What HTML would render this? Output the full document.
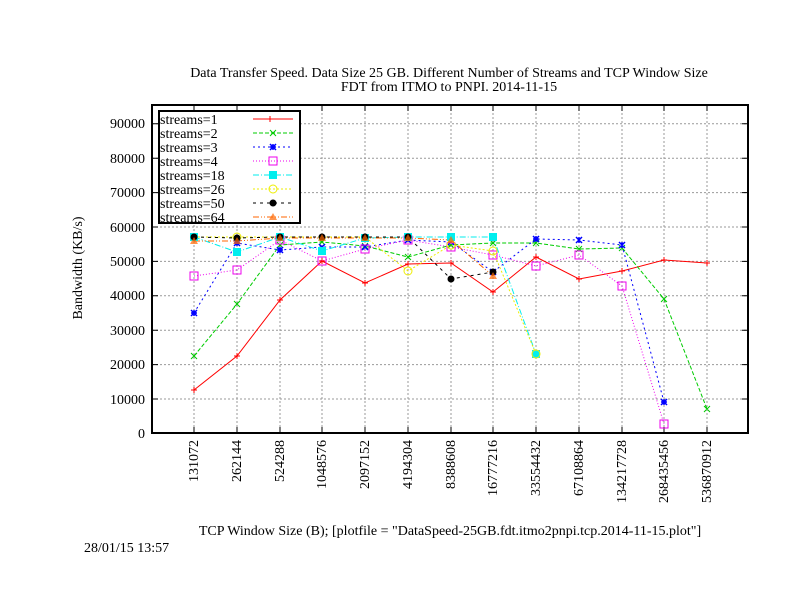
<!DOCTYPE html>
<html><head><style>body{margin:0;background:#fff}svg{display:block}text{font-family:"Liberation Serif",serif;font-size:14px;fill:#000}</style></head><body>
<svg width="792" height="612" viewBox="0 0 792 612" xmlns="http://www.w3.org/2000/svg">
<rect width="792" height="612" fill="#fff"/>
<text x="449" y="77" text-anchor="middle">Data Transfer Speed. Data Size 25 GB. Different Number of Streams and TCP Window Size</text>
<text x="449" y="91" text-anchor="middle">FDT from ITMO to PNPI. 2014-11-15</text>
<g stroke="#999" stroke-width="1" stroke-dasharray="2,2" fill="none">
<path d="M152 399H748M152 364.6H748M152 330.2H748M152 295.8H748M152 261.4H748M152 227H748M152 192.6H748M152 158.2H748M152 123.8H748"/>
<path d="M194 105V433M237 105V433M280 105V433M322 105V433M365 105V433M408 105V433M451 105V433M493 105V433M536 105V433M579 105V433M622 105V433M664 105V433M707 105V433"/>
</g>
<g stroke="#000" stroke-width="1">
<path d="M152 399h6M152 364.6h6M152 330.2h6M152 295.8h6M152 261.4h6M152 227h6M152 192.6h6M152 158.2h6M152 123.8h6M748 399h-6M748 364.6h-6M748 330.2h-6M748 295.8h-6M748 261.4h-6M748 227h-6M748 192.6h-6M748 158.2h-6M748 123.8h-6"/>
<path d="M194 433v-6M237 433v-6M280 433v-6M322 433v-6M365 433v-6M408 433v-6M451 433v-6M493 433v-6M536 433v-6M579 433v-6M622 433v-6M664 433v-6M707 433v-6M194 105v6M237 105v6M280 105v6M322 105v6M365 105v6M408 105v6M451 105v6M493 105v6M536 105v6M579 105v6M622 105v6M664 105v6M707 105v6"/>
</g>
<g text-anchor="end">
<text x="145" y="438">0</text><text x="145" y="404">10000</text><text x="145" y="369">20000</text><text x="145" y="335">30000</text><text x="145" y="300">40000</text><text x="145" y="266">50000</text><text x="145" y="232">60000</text><text x="145" y="197">70000</text><text x="145" y="163">80000</text><text x="145" y="128">90000</text>
</g>
<g text-anchor="end">
<text transform="translate(198,440) rotate(-90)">131072</text>
<text transform="translate(241,440) rotate(-90)">262144</text>
<text transform="translate(284,440) rotate(-90)">524288</text>
<text transform="translate(326,440) rotate(-90)">1048576</text>
<text transform="translate(369,440) rotate(-90)">2097152</text>
<text transform="translate(412,440) rotate(-90)">4194304</text>
<text transform="translate(455,440) rotate(-90)">8388608</text>
<text transform="translate(497,440) rotate(-90)">16777216</text>
<text transform="translate(540,440) rotate(-90)">33554432</text>
<text transform="translate(583,440) rotate(-90)">67108864</text>
<text transform="translate(626,440) rotate(-90)">134217728</text>
<text transform="translate(668,440) rotate(-90)">268435456</text>
<text transform="translate(711,440) rotate(-90)">536870912</text>
</g>
<text transform="translate(82,268) rotate(-90)" text-anchor="middle">Bandwidth (KB/s)</text>
<text x="450" y="535" text-anchor="middle">TCP Window Size (B); [plotfile = "DataSpeed-25GB.fdt.itmo2pnpi.tcp.2014-11-15.plot"]</text>
<text x="84" y="552">28/01/15 13:57</text>
<g fill="none" stroke-width="1">
<polyline stroke="#f00" points="194,390 237,356 280,300 322,261 365,283 408,264 451,263 493,292 536,257 579,279 622,271 664,260 707,263"/>
<polyline stroke="#0c0" stroke-dasharray="4,2" points="194,356 237,304 280,245 322,242 365,246 408,257 451,245 493,243 536,243 579,249 622,248 664,299 707,409"/>
<polyline stroke="#00f" stroke-dasharray="2,3" points="194,313 237,243 280,250 322,247 365,247 408,240 451,242 493,272 536,239 579,240 622,245 664,402"/>
<polyline stroke="#e0e" stroke-dasharray="1,2" points="194,276 237,270 280,240 322,261 365,249 408,240 451,247 493,255 536,266 579,255 622,286 664,424"/>
<polyline stroke="#0ee" stroke-dasharray="6,2,1,2" points="194,237 237,252 280,237 322,251 365,238 408,237 451,237 493,237 536,354"/>
<polyline stroke="#ee0" stroke-dasharray="2,2" points="194,237 237,237 280,237 322,237 365,237 408,271 451,245 493,251 536,354"/>
<polyline stroke="#000" stroke-dasharray="3,4" points="194,237 237,238 280,237 322,237 365,237 408,237 451,279 493,272"/>
<polyline stroke="#f60" stroke-dasharray="6,2,1,2,1,2" points="194,241 237,241 280,238 322,238 365,238 408,238 451,240 493,276"/>
</g>
<g stroke="#f00"><path d="M191 390h6M194 387v6M234 356h6M237 353v6M277 300h6M280 297v6M319 261h6M322 258v6M362 283h6M365 280v6M405 264h6M408 261v6M448 263h6M451 260v6M490 292h6M493 289v6M533 257h6M536 254v6M576 279h6M579 276v6M619 271h6M622 268v6M661 260h6M664 257v6M704 263h6M707 260v6"/></g>
<g stroke="#0c0"><path d="M191 353l6 6M197 353l-6 6M234 301l6 6M240 301l-6 6M277 242l6 6M283 242l-6 6M319 239l6 6M325 239l-6 6M362 243l6 6M368 243l-6 6M405 254l6 6M411 254l-6 6M448 242l6 6M454 242l-6 6M490 240l6 6M496 240l-6 6M533 240l6 6M539 240l-6 6M576 246l6 6M582 246l-6 6M619 245l6 6M625 245l-6 6M661 296l6 6M667 296l-6 6M704 406l6 6M710 406l-6 6"/></g>
<g stroke="#00f" stroke-width="1.5"><path d="M191 310l6 6M197 310l-6 6M191 313h6M194 310v6M234 240l6 6M240 240l-6 6M234 243h6M237 240v6M277 247l6 6M283 247l-6 6M277 250h6M280 247v6M319 244l6 6M325 244l-6 6M362 244l6 6M368 244l-6 6M405 237l6 6M411 237l-6 6M448 239l6 6M454 239l-6 6M490 269l6 6M496 269l-6 6M533 236l6 6M539 236l-6 6M533 239h6M536 236v6M576 237l6 6M582 237l-6 6M579 237v6M619 242l6 6M625 242l-6 6M622 242v6M661 399l6 6M667 399l-6 6M661 402h6M664 399v6"/></g>
<g stroke="#e0e" fill="none"><rect x="190" y="272" width="8" height="8"/><rect x="233" y="266" width="8" height="8"/><rect x="276" y="236" width="8" height="8"/><rect x="318" y="257" width="8" height="8"/><rect x="361" y="245" width="8" height="8"/><rect x="404" y="236" width="8" height="8"/><rect x="447" y="243" width="8" height="8"/><rect x="489" y="251" width="8" height="8"/><rect x="532" y="262" width="8" height="8"/><rect x="575" y="251" width="8" height="8"/><rect x="618" y="282" width="8" height="8"/><rect x="660" y="420" width="8" height="8"/></g>
<g fill="#0ee"><rect x="190" y="233" width="8" height="8"/><rect x="233" y="248" width="8" height="8"/><rect x="276" y="233" width="8" height="8"/><rect x="318" y="247" width="8" height="8"/><rect x="361" y="234" width="8" height="8"/><rect x="404" y="233" width="8" height="8"/><rect x="447" y="233" width="8" height="8"/><rect x="489" y="233" width="8" height="8"/><rect x="532" y="350" width="8" height="8"/></g>
<g stroke="#ee0" fill="none"><circle cx="237" cy="237" r="4"/><circle cx="408" cy="271" r="4"/><circle cx="451" cy="245" r="4"/><circle cx="493" cy="251" r="4"/><circle cx="536" cy="354" r="4"/></g>
<g fill="#000"><circle cx="194" cy="237" r="3.5"/><circle cx="237" cy="238" r="3.5"/><circle cx="280" cy="237" r="3.5"/><circle cx="322" cy="237" r="3.5"/><circle cx="365" cy="237" r="3.5"/><circle cx="408" cy="237" r="3.5"/><circle cx="451" cy="279" r="3.5"/><circle cx="493" cy="272" r="3.5"/></g>
<g fill="#f60" fill-opacity="0.7"><path d="M194 237l4 7h-8zM237 237l4 7h-8zM280 234l4 7h-8zM322 234l4 7h-8zM365 234l4 7h-8zM408 234l4 7h-8zM451 236l4 7h-8zM493 272l4 7h-8z"/></g>
<rect x="152" y="105" width="596" height="328" fill="none" stroke="#000" stroke-width="2"/>
<rect x="159" y="111" width="141" height="112" fill="#fff" stroke="#000" stroke-width="2"/>
<g>
<text x="160" y="124">streams=1</text><text x="160" y="138">streams=2</text><text x="160" y="152">streams=3</text><text x="160" y="166">streams=4</text><text x="160" y="180">streams=18</text><text x="160" y="194">streams=26</text><text x="160" y="208">streams=50</text><text x="160" y="222">streams=64</text>
</g>
<g fill="none">
<path stroke="#f00" d="M253 119h40M270 116v6M267 119h6"/>
<path stroke="#0c0" stroke-dasharray="4,2" d="M253 133h40"/><path stroke="#0c0" d="M270 130l6 6M276 130l-6 6"/>
<path stroke="#00f" stroke-dasharray="2,3" d="M253 147h40"/><path stroke="#00f" stroke-width="1.5" d="M270 144l6 6M276 144l-6 6M270 147h6M273 144v6"/>
<path stroke="#e0e" stroke-dasharray="1,2" d="M253 161h40"/><rect x="269" y="157" width="8" height="8" stroke="#e0e"/>
<path stroke="#0ee" stroke-dasharray="6,2,1,2" d="M253 175h40"/>
<path stroke="#ee0" stroke-dasharray="2,2" d="M253 189h40"/><circle cx="273" cy="189" r="4" stroke="#ee0"/>
<path stroke="#000" stroke-dasharray="3,4" d="M253 203h40"/>
<path stroke="#f60" stroke-dasharray="6,2,1,2,1,2" d="M253 217h40"/>
</g>
<rect x="269" y="171" width="8" height="8" fill="#0ee"/>
<circle cx="273" cy="203" r="3.5" fill="#000"/>
<path d="M273 213l4 7h-8z" fill="#f60" fill-opacity="0.7"/>
</svg>
</body></html>
